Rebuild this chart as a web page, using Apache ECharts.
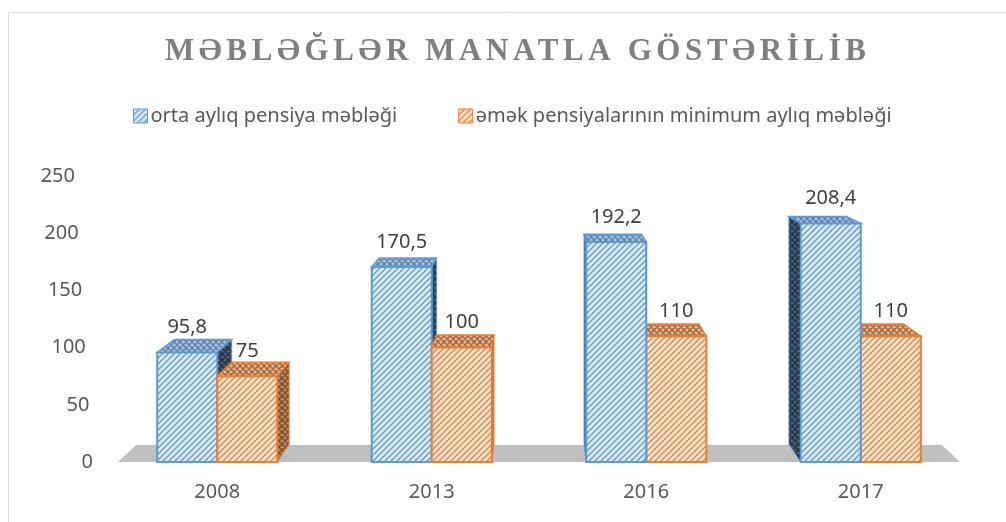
<!DOCTYPE html>
<html>
<head>
<meta charset="utf-8">
<script src="https://cdn.jsdelivr.net/npm/echarts@6/dist/echarts.min.js"></script>
<style>
  html, body { margin: 0; padding: 0; background: #fff; }
  #chart { width: 1006px; height: 522px; }
</style>
</head>
<body>
<div id="chart"></div>
<script>
// data
var TITLE = 'MƏBLƏĞLƏR MANATLA GÖSTƏRİLİB';
var years = ['2008', '2013', '2016', '2017'];
var ortaPensiya = [95.8, 170.5, 192.2, 208.4];
var minPensiya = [75, 100, 110, 110];
var seriesNames = ['orta aylıq pensiya məbləği', 'əmək pensiyalarının minimum aylıq məbləği'];
var yTicks = [0, 50, 100, 150, 200, 250];

// title letter spacing (echarts has no letterSpacing option)
var origFillText = CanvasRenderingContext2D.prototype.fillText;
CanvasRenderingContext2D.prototype.fillText = function (t, x, y, w) {
  if (t === TITLE) {
    this.letterSpacing = '4.6px';
    origFillText.apply(this, arguments);
    this.letterSpacing = '0px';
    return;
  }
  return origFillText.apply(this, arguments);
};

// hatch patterns
function hatch(bg, fg, cross) {
  var c = document.createElement('canvas');
  c.width = c.height = 6;
  var g = c.getContext('2d');
  g.fillStyle = bg;
  g.fillRect(0, 0, 6, 6);
  g.strokeStyle = fg;
  g.lineWidth = 1.3;
  g.beginPath();
  g.moveTo(0, 6); g.lineTo(6, 0);
  g.moveTo(-1, 1); g.lineTo(1, -1);
  g.moveTo(5, 7); g.lineTo(7, 5);
  if (cross) {
    g.moveTo(0, 0); g.lineTo(6, 6);
    g.moveTo(-1, 5); g.lineTo(1, 7);
    g.moveTo(5, -1); g.lineTo(7, 1);
  }
  g.stroke();
  return { image: c, repeat: 'repeat' };
}

var styles = [
  {
    line: '#5b9bd5',
    front: hatch('#dbe9f6', '#5b9bd5'),
    top: hatch('#a9bfd8', '#5b7ea6', true),
    side: hatch('#4b5d73', '#22303f', true)
  },
  {
    line: '#ed7d31',
    front: hatch('#fde5d4', '#ed7d31'),
    top: hatch('#d9b59a', '#a8612f', true),
    side: hatch('#b98460', '#7b4a28', true)
  }
];

var K_BAR = 0.045;
var K_FLOOR = 0.043;

function vanish(params) {
  var cs = params.coordSys;
  return [cs.x + cs.width / 2, cs.y - 110];
}
function back(p, v, k) {
  return [p[0] + k * (v[0] - p[0]), p[1] + k * (v[1] - p[1])];
}
function fmt(v) {
  return String(v).replace('.', ',');
}

function makeBarRender(side) {
  return function (params, api) {
    var cat = api.value(0);
    var val = api.value(1);
    var base = api.coord([cat, 0]);
    var topPt = api.coord([cat, val]);
    var bw = api.size([1, 0])[0] * 0.28;
    var x0 = side === 0 ? base[0] - bw : base[0];
    var x1 = x0 + bw;
    var yb = base[1], yt = topPt[1];
    var v = vanish(params);
    var st = styles[side];
    // which bar of the pair sits in front
    var z = (base[0] < v[0]) ? (side === 0 ? 1 : 2) : (side === 0 ? 2 : 1);
    var children = [];

    if (x1 < v[0]) {
      children.push({
        type: 'polygon', z2: z,
        shape: { points: [[x1, yt], [x1, yb], back([x1, yb], v, K_BAR), back([x1, yt], v, K_BAR)] },
        style: { fill: st.side, stroke: st.line, lineWidth: 1 }
      });
    }
    if (x0 > v[0]) {
      children.push({
        type: 'polygon', z2: z,
        shape: { points: [[x0, yt], [x0, yb], back([x0, yb], v, K_BAR), back([x0, yt], v, K_BAR)] },
        style: { fill: st.side, stroke: st.line, lineWidth: 1 }
      });
    }
    children.push({
      type: 'polygon', z2: z,
      shape: { points: [[x0, yt], [x1, yt], back([x1, yt], v, K_BAR), back([x0, yt], v, K_BAR)] },
      style: { fill: st.top, stroke: st.line, lineWidth: 1.5 }
    });
    children.push({
      type: 'rect', z2: z,
      shape: { x: x0, y: yt, width: bw, height: yb - yt },
      style: { fill: st.front, stroke: st.line, lineWidth: 2 }
    });
    children.push({
      type: 'text', z2: 10,
      x: (x0 + x1) / 2, y: yt - 25,
      style: {
        text: fmt(val), fill: '#404040', fontSize: 20, fontFamily: 'Noto Sans',
        align: 'center', verticalAlign: 'middle'
      }
    });
    return { type: 'group', children: children };
  };
}

function renderFloor(params, api) {
  var cs = params.coordSys;
  var v = vanish(params);
  var y0 = api.coord([0, 0])[1];
  var half = cs.width / 2 - 8;
  var a = [v[0] - half, y0], b = [v[0] + half, y0];
  return {
    type: 'polygon', z2: 0,
    shape: { points: [a, b, back(b, v, K_FLOOR), back(a, v, K_FLOOR)] },
    style: { fill: '#bfbfbf' }
  };
}

var rich = {};
yTicks.forEach(function (t) {
  rich['t' + t] = { padding: [0, t * 0.072, 0, 0], fontSize: 20, fontFamily: 'Noto Sans', color: '#595959' };
});

var chart = echarts.init(document.getElementById('chart'));
var option = {
  backgroundColor: '#fff',
  animation: false,
  title: {
    text: TITLE,
    left: 160,
    top: 31,
    textStyle: {
      fontFamily: 'Liberation Serif',
      fontWeight: 'bold',
      fontSize: 31,
      color: '#7f7f7f'
    }
  },
  legend: {
    left: 128,
    top: 101,
    itemWidth: 14,
    itemHeight: 14,
    itemGap: 61,
    icon: 'rect',
    textStyle: { fontSize: 20, fontFamily: 'Noto Sans', color: '#595959', padding: [0, 0, 0, -2] },
    data: [
      { name: seriesNames[0], itemStyle: { color: styles[0].front, borderColor: styles[0].line, borderWidth: 1 } },
      { name: seriesNames[1], itemStyle: { color: styles[1].front, borderColor: styles[1].line, borderWidth: 1 } }
    ]
  },
  grid: { left: 110, right: 38, top: 176, bottom: 60 },
  xAxis: {
    type: 'category',
    data: years,
    axisLine: { show: false },
    axisTick: { show: false },
    axisLabel: { margin: 20, fontSize: 20, fontFamily: 'Noto Sans', color: '#595959' }
  },
  yAxis: {
    type: 'value',
    min: 0,
    max: 250,
    interval: 50,
    splitLine: { show: false },
    axisLine: { show: false },
    axisTick: { show: false },
    axisLabel: {
      margin: 17,
      formatter: function (v) { return '{t' + v + '|' + v + '}'; },
      rich: rich
    }
  },
  graphic: [{
    type: 'rect',
    shape: { x: 8.5, y: 12.5, width: 1010, height: 520 },
    style: { fill: 'none', stroke: '#d9d9d9', lineWidth: 1 },
    silent: true
  }],
  series: [
    {
      name: 'floor',
      type: 'custom',
      silent: true,
      renderItem: renderFloor,
      data: [[0, 0]]
    },
    {
      name: seriesNames[0],
      type: 'custom',
      renderItem: makeBarRender(0),
      itemStyle: { color: styles[0].front, borderColor: styles[0].line },
      encode: { x: 0, y: 1 },
      data: ortaPensiya.map(function (v, i) { return [i, v]; })
    },
    {
      name: seriesNames[1],
      type: 'custom',
      renderItem: makeBarRender(1),
      itemStyle: { color: styles[1].front, borderColor: styles[1].line },
      encode: { x: 0, y: 1 },
      data: minPensiya.map(function (v, i) { return [i, v]; })
    }
  ]
};
chart.setOption(option);

window.addEventListener('resize', function () {
  chart.resize();
});
</script>
</body>
</html>
